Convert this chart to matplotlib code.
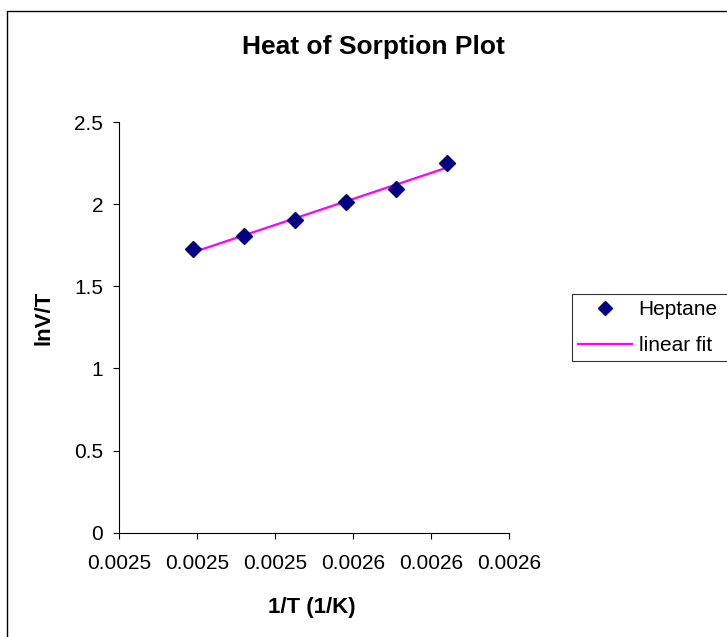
import numpy as np
import matplotlib.pyplot as plt
from matplotlib.patches import Rectangle

plt.rcParams['font.family'] = ['Liberation Sans', 'DejaVu Sans']

# 1/T values (1/K) and lnV/T for heptane
inv_t = [0.002519, 0.002532, 0.002545, 0.002558, 0.002571, 0.002584]
ln_vt = [1.725, 1.804, 1.903, 2.015, 2.094, 2.249]

x_ticks = [0.00250, 0.00252, 0.00254, 0.00256, 0.00258, 0.00260]
x_tick_labels = ["0.0025", "0.0025", "0.0025", "0.0026", "0.0026", "0.0026"]
y_ticks = [0, 0.5, 1, 1.5, 2, 2.5]
y_tick_labels = ["0", "0.5", "1", "1.5", "2", "2.5"]

# least squares fit through the points
slope, intercept = np.polyfit(inv_t, ln_vt, 1)
fit_x = np.array([inv_t[0], inv_t[-1]])
fit_y = slope * fit_x + intercept

W, H = 727, 637
fig = plt.figure(figsize=(W / 100, H / 100), dpi=100)
ax = fig.add_axes([119.3 / W, 1 - 532.7 / H, 390 / W, 410.7 / H])

ax.plot(fit_x, fit_y, color="#FF00FF", linewidth=1.6, label="linear fit", zorder=2)
ax.plot(inv_t, ln_vt, linestyle="none", marker="D", markersize=8.5,
        color="#000080", label="Heptane", zorder=3)

ax.set_xlim(x_ticks[0], x_ticks[-1])
ax.set_ylim(y_ticks[0], y_ticks[-1])
ax.set_xticks(x_ticks)
ax.set_xticklabels(x_tick_labels)
ax.set_yticks(y_ticks)
ax.set_yticklabels(y_tick_labels)
ax.tick_params(direction="out", length=4.5, width=0.8, labelsize=15)
ax.tick_params(axis="x", pad=11)
ax.tick_params(axis="y", pad=7)

for side in ["top", "right"]:
    ax.spines[side].set_visible(False)

fig.text(373 / W, 1 - 47 / H, "Heat of Sorption Plot", ha="center", va="center",
         fontsize=19, fontweight="bold")
fig.text(312 / W, 1 - 607 / H, "1/T (1/K)", ha="center", va="center",
         fontsize=16, fontweight="bold")
fig.text(44 / W, 1 - 318 / H, "lnV/T", ha="center", va="center", rotation=90,
         fontsize=16, fontweight="bold")

handles, labels = ax.get_legend_handles_labels()
handles[1].set_markersize(7.5)
leg = fig.legend(handles[::-1], labels[::-1], loc="upper left",
                 bbox_to_anchor=(572 / W, 1 - 361 / H, 0.3, 67 / H),
                 mode="expand", borderaxespad=0, fontsize=15, frameon=True,
                 fancybox=False, edgecolor="black", handlelength=2.6,
                 handletextpad=0.3, labelspacing=0.8, borderpad=0.3)
leg.get_frame().set_linewidth(0.8)
handles[1].set_markersize(8.5)

# outer chart border
fig.patches.append(Rectangle((7 / W, -0.1), 1.2, 1 - 11 / H + 0.1,
                             transform=fig.transFigure, fill=False,
                             edgecolor="black", linewidth=1))

fig.savefig("out.png", dpi=100)
